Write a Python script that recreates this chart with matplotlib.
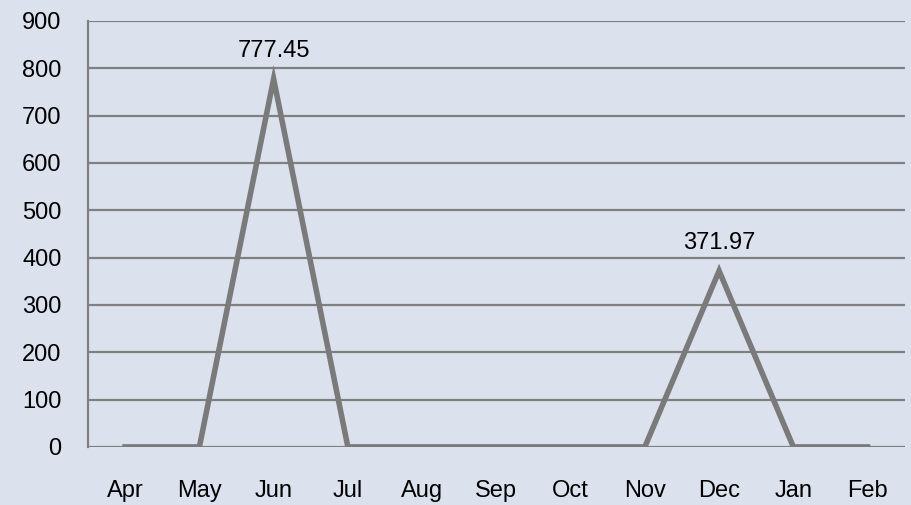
import matplotlib.pyplot as plt

months = ["Apr", "May", "Jun", "Jul", "Aug", "Sep", "Oct", "Nov", "Dec", "Jan", "Feb"]
values = [0, 0, 777.45, 0, 0, 0, 0, 0, 371.97, 0, 0]
yticks = [0, 100, 200, 300, 400, 500, 600, 700, 800, 900]

bg = "#DCE1EE"
grey = "#808080"

plt.rcParams['font.family'] = ['Liberation Sans', 'DejaVu Sans']

fig = plt.figure(figsize=(9.12, 5.05), dpi=100, facecolor=bg)
ax = fig.add_axes([0.0965, 0.115, 0.8955, 0.8435], facecolor=bg)

x = range(len(months))
ax.plot(x, values, color="#7A7A7A", lw=4, solid_joinstyle="miter", zorder=3)

# labels only on non-zero points
for i, v in enumerate(values):
    if v > 0:
        ax.annotate(f"{v:.2f}", (i, v), xytext=(0, 12), textcoords="offset points",
                    ha="center", va="bottom", fontsize=17)

ax.set_xlim(-0.5, len(months) - 0.5)
ax.set_ylim(0, 900)
ax.set_yticks(yticks)
ax.set_xticks(list(x))
ax.set_xticklabels(months)
ax.yaxis.grid(True, color=grey, lw=1.6)
ax.set_axisbelow(True)
for s in ["top", "right", "bottom"]:
    ax.spines[s].set_visible(False)
ax.spines["left"].set_color(grey)
ax.spines["left"].set_linewidth(1.6)
ax.tick_params(axis="both", length=0, labelsize=17, colors="black")
ax.tick_params(axis="y", pad=19)
ax.tick_params(axis="x", pad=24)

fig.savefig("out.png", dpi=100, facecolor=bg)
